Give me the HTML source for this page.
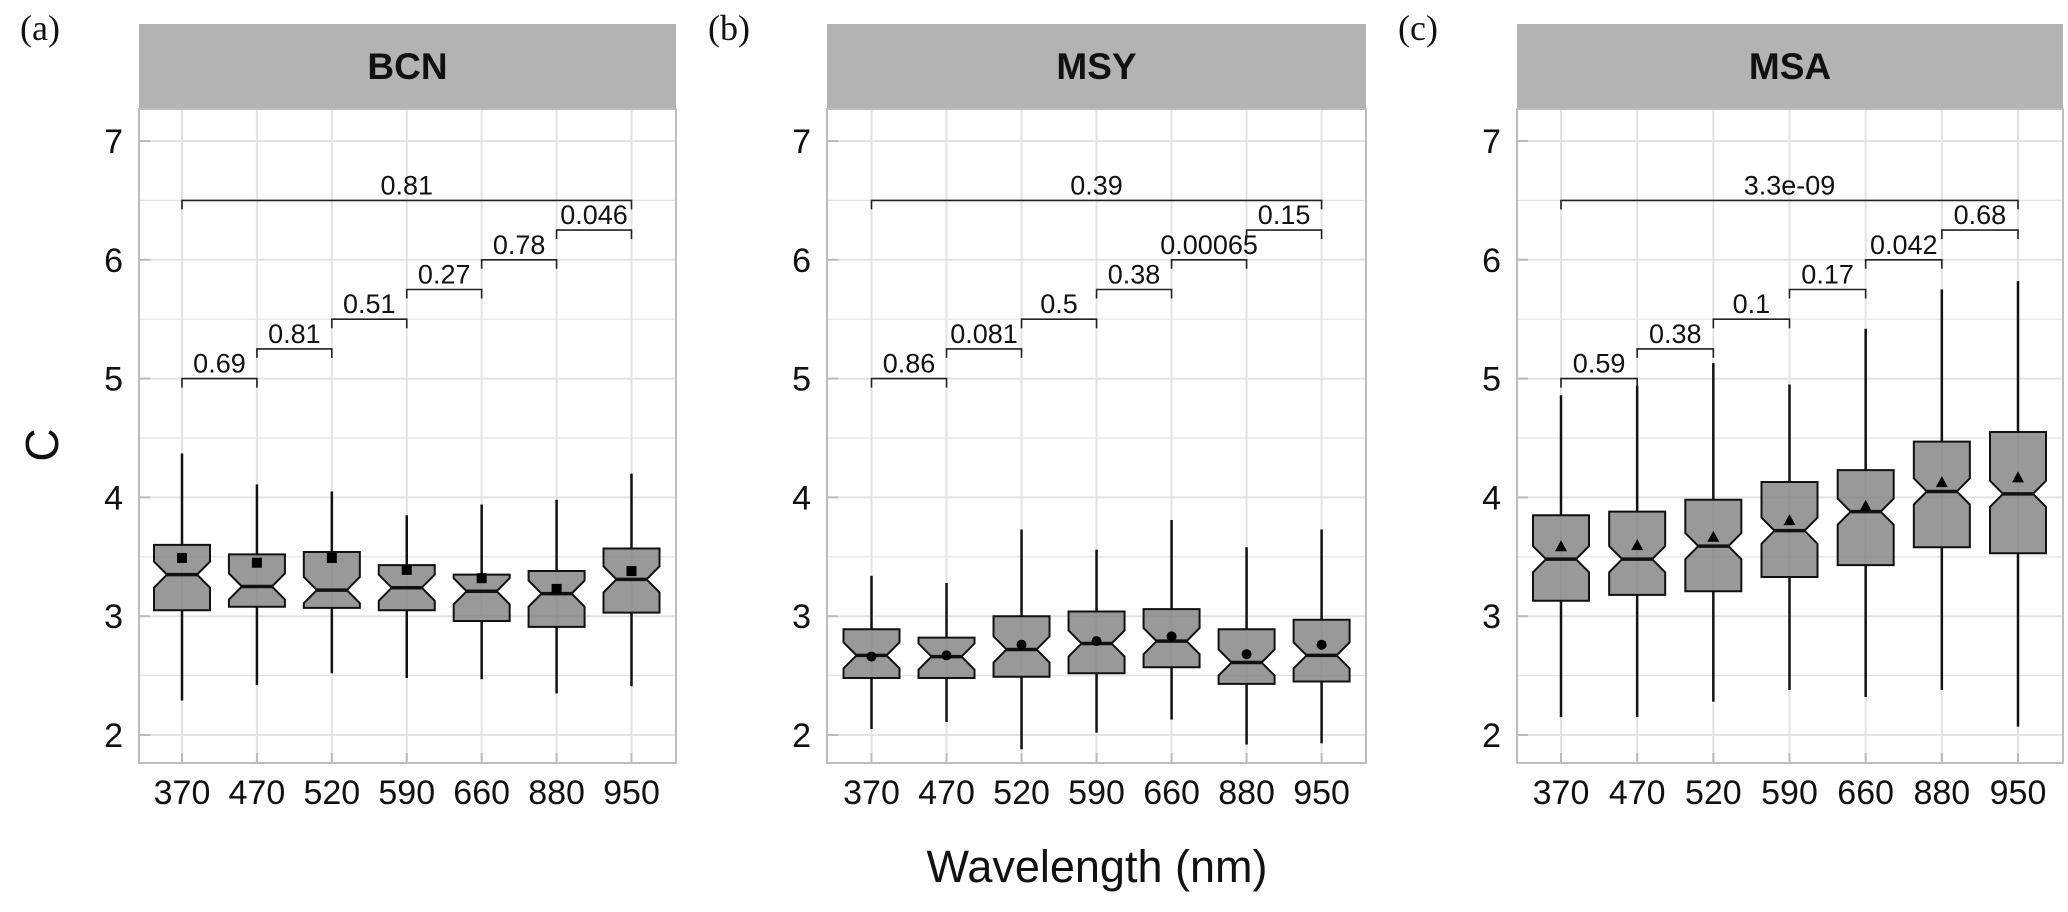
<!DOCTYPE html>
<html><head><meta charset="utf-8"><style>
html,body{margin:0;padding:0;background:#fff;}
svg{display:block;font-family:"Liberation Sans",Arial,sans-serif;}
</style></head><body>
<svg id="chart" width="2068" height="912" viewBox="0 0 2068 912" xmlns="http://www.w3.org/2000/svg">
<text x="1097" y="882" font-size="45" text-anchor="middle" fill="#111">Wavelength (nm)</text>
<text x="0" y="0" font-size="46" text-anchor="middle" fill="#111" transform="translate(58,445) rotate(-90)">C</text>
</svg>
<script>
const categories = ["370","470","520","590","660","880","950"];
const yTicks = [2,3,4,5,6,7];
const panelNames = ["BCN","MSY","MSA"];
const panelLetters = ["(a)","(b)","(c)"];
// BCN
const bcnHigh = [4.37,4.11,4.05,3.85,3.94,3.98,4.20];
const bcnQ3   = [3.60,3.52,3.54,3.43,3.35,3.38,3.57];
const bcnMed  = [3.35,3.25,3.22,3.24,3.21,3.19,3.31];
const bcnQ1   = [3.05,3.08,3.07,3.05,2.96,2.91,3.03];
const bcnLow  = [2.29,2.42,2.52,2.48,2.47,2.35,2.41];
const bcnMean = [3.49,3.45,3.49,3.39,3.32,3.23,3.38];
const bcnP    = ["0.69","0.81","0.51","0.27","0.78","0.046"];
const bcnPAll = "0.81";
// MSY
const msyHigh = [3.34,3.28,3.73,3.56,3.81,3.58,3.73];
const msyQ3   = [2.89,2.82,3.00,3.04,3.06,2.89,2.97];
const msyMed  = [2.67,2.66,2.72,2.77,2.79,2.61,2.67];
const msyQ1   = [2.48,2.48,2.49,2.52,2.57,2.43,2.45];
const msyLow  = [2.05,2.11,1.88,2.02,2.13,1.92,1.93];
const msyMean = [2.66,2.67,2.76,2.79,2.83,2.68,2.76];
const msyP    = ["0.86","0.081","0.5","0.38","0.00065","0.15"];
const msyPAll = "0.39";
// MSA
const msaHigh = [4.86,4.94,5.13,4.95,5.42,5.75,5.82];
const msaQ3   = [3.85,3.88,3.98,4.13,4.23,4.47,4.55];
const msaMed  = [3.48,3.48,3.59,3.72,3.88,4.05,4.03];
const msaQ1   = [3.13,3.18,3.21,3.33,3.43,3.58,3.53];
const msaLow  = [2.15,2.15,2.28,2.38,2.32,2.38,2.07];
const msaMean = [3.58,3.59,3.66,3.80,3.92,4.12,4.16];
const msaP    = ["0.59","0.38","0.1","0.17","0.042","0.68"];
const msaPAll = "3.3e-09";

const NS = "http://www.w3.org/2000/svg";
const svg = document.getElementById("chart");
function mk(tag, attrs, parent){
  const e = document.createElementNS(NS, tag);
  for (const k in attrs) e.setAttribute(k, attrs[k]);
  (parent||svg).appendChild(e);
  return e;
}
const panels = [
  {left:139,right:676,x0:182,x1:631.5,lx:20,shape:"square",high:bcnHigh,q3:bcnQ3,med:bcnMed,q1:bcnQ1,low:bcnLow,mean:bcnMean,p:bcnP,pAll:bcnPAll},
  {left:827,right:1366,x0:871.5,x1:1321.6,lx:708,shape:"circle",high:msyHigh,q3:msyQ3,med:msyMed,q1:msyQ1,low:msyLow,mean:msyMean,p:msyP,pAll:msyPAll},
  {left:1517,right:2063,x0:1561,x1:2018,lx:1398,shape:"triangle",high:msaHigh,q3:msaQ3,med:msaMed,q1:msaQ1,low:msaLow,mean:msaMean,p:msaP,pAll:msaPAll}
];
const pTop=109, pBottom=763, stripTop=24;
function yS(v){ return 735 - (v-2)*118.8; }
const notch = 0.11;

panels.forEach((P, pi) => {
  const g = mk("g", {});
  
  
  const xS = i => P.x0 + i*(P.x1-P.x0)/(categories.length-1);
  const lt = mk("text", {x:P.lx, y:40, "font-size":36, "font-family":"Liberation Serif, serif", fill:"#111"}, g);
  lt.textContent = panelLetters[pi];
  
  
  const st = mk("rect", {x:P.left, y:stripTop, width:P.right-P.left, height:pTop-stripTop, fill:"#b3b3b3"}, g);
  
  
  const stt = mk("text", {x:(P.left+P.right)/2, y:79, "font-size":37, "font-weight":"bold", "text-anchor":"middle", fill:"#111"}, g);
  stt.textContent = panelNames[pi];
  
  
  for (let v=1.5; v<=7.5; v+=0.5){
    const y=yS(v); if (y<pTop||y>pBottom) continue;
    const major = Number.isInteger(v);
    const l = mk("line", {x1:P.left, x2:P.right, y1:y, y2:y, stroke:"#e3e3e3", "stroke-width": major?2:1.2}, g);
    
    
  }
  categories.forEach((c,i) => {
    const l = mk("line", {x1:xS(i), x2:xS(i), y1:pTop, y2:pBottom, stroke:"#e3e3e3", "stroke-width":2}, g);
    
    
  });
  const fr = mk("rect", {x:P.left, y:pTop, width:P.right-P.left, height:pBottom-pTop, fill:"none", stroke:"#bdbdbd", "stroke-width":2}, g);
  
  
  yTicks.forEach(v => {
    const tk = mk("line", {x1:P.left, x2:P.left+11, y1:yS(v), y2:yS(v), stroke:"#bbb", "stroke-width":2}, g);
    
    
    const t = mk("text", {x:P.left-16, y:yS(v)+12, "font-size":34, "text-anchor":"end", fill:"#111"}, g);
    t.textContent = v;
    
    
  });
  categories.forEach((c,i) => {
    const tk = mk("line", {x1:xS(i), x2:xS(i), y1:pBottom-10, y2:pBottom, stroke:"#bbb", "stroke-width":2}, g);
    
    
    const t = mk("text", {x:xS(i), y:804, "font-size":34, "text-anchor":"middle", fill:"#111"}, g);
    t.textContent = c;
    
    
  });
  const hw=28, ni=13;
  categories.forEach((c,i) => {
    const x=xS(i);
    const w1 = mk("line", {x1:x,x2:x,y1:yS(P.high[i]),y2:yS(P.q3[i]),stroke:"#111","stroke-width":2.5}, g);
    
    
    const w2 = mk("line", {x1:x,x2:x,y1:yS(P.q1[i]),y2:yS(P.low[i]),stroke:"#111","stroke-width":2.5}, g);
    
    
    const m=P.med[i];
    const nu = Math.min(m+notch, P.q3[i]), nl = Math.max(m-notch, P.q1[i]);
    const pts = [[x-hw,yS(P.q3[i])],[x+hw,yS(P.q3[i])],[x+hw,yS(nu)],[x+hw-ni,yS(m)],[x+hw,yS(nl)],[x+hw,yS(P.q1[i])],
                 [x-hw,yS(P.q1[i])],[x-hw,yS(nl)],[x-hw+ni,yS(m)],[x-hw,yS(nu)]];
    const b = mk("polygon", {points:pts.map(p=>p.join(",")).join(" "), fill:"rgba(128,128,128,0.8)", stroke:"#111","stroke-width":2}, g);
    
    
    const ml = mk("line", {x1:x-hw+ni,x2:x+hw-ni,y1:yS(m),y2:yS(m),stroke:"#111","stroke-width":3.5}, g);
    
    
    const my = yS(P.mean[i]);
    let mm;
    if (P.shape==="square") mm = mk("rect", {x:x-5,y:my-5,width:10,height:10,fill:"#000"}, g);
    else if (P.shape==="circle") mm = mk("circle", {cx:x,cy:my,r:5,fill:"#000"}, g);
    else mm = mk("polygon", {points:`${x},${my-7} ${x+6},${my+4} ${x-6},${my+4}`, fill:"#000"}, g);
    
    
  });
  function bracket(i0,i1,level,label){
    const y=yS(level), x0=xS(i0), x1=xS(i1);
    const br = mk("path", {d:`M${x0},${y+9}V${y}H${x1}V${y+9}`, fill:"none", stroke:"#222", "stroke-width":1.6}, g);
    
    
    const t = mk("text", {x:(x0+x1)/2, y:y-6, "font-size":27, "text-anchor":"middle", fill:"#111"}, g);
    t.textContent = label;
    
    
  }
  P.p.forEach((lab,k) => bracket(k,k+1,5+0.25*k,lab));
  bracket(0,categories.length-1,6.5,P.pAll);
});
</script>
</body></html>
